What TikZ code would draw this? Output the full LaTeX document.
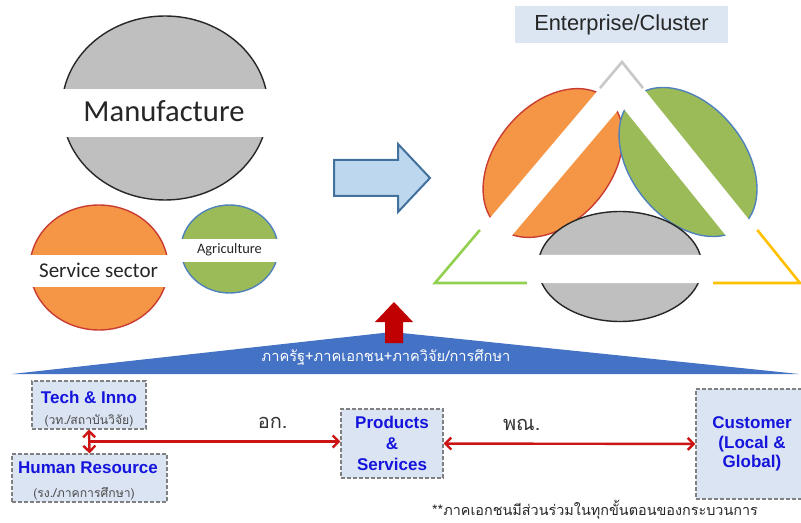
\documentclass[tikz,border=0pt]{standalone}
\usepackage{fontspec}
\setmainfont{Liberation Sans}
\newfontfamily\calibrifont{Carlito}
\newfontfamily\thaifont[Script=Thai]{Loma}
\usepackage{xcolor}
\usepackage{tikz}
\usetikzlibrary{positioning,arrows.meta,calc,shapes.geometric}
\definecolor{mfgray}{RGB}{191,191,191}
\definecolor{svorange}{RGB}{245,150,70}
\definecolor{svred}{RGB}{200,60,50}
\definecolor{aggreen}{RGB}{155,187,89}
\definecolor{agblue}{RGB}{79,129,189}
\definecolor{shiftfill}{RGB}{189,215,238}
\definecolor{shiftline}{RGB}{65,113,156}
\definecolor{clusterbg}{RGB}{220,230,242}
\definecolor{wedgeblue}{RGB}{68,114,196}
\definecolor{upred}{RGB}{192,0,0}
\definecolor{linkred}{RGB}{204,20,20}
\definecolor{unitfill}{RGB}{219,228,243}
\definecolor{unitline}{RGB}{128,128,128}
\definecolor{unittext}{RGB}{20,20,220}
\definecolor{triyellow}{RGB}{255,192,0}
\definecolor{trigreen}{RGB}{146,208,80}
\definecolor{trigray}{RGB}{200,200,200}
\tikzset{
  sector/.style={ellipse, inner sep=0pt, line width=0.7pt},
  band/.style={fill=white},
  slbl/.style={font=\calibrifont\fontsize{#1}{#1}\selectfont, text=black!85, inner sep=0pt},
  cluster/.style={fill=clusterbg, minimum width=106.5pt, minimum height=18.5pt,
                  font=\fontsize{10.9}{13}\selectfont, text=black!85},
  shiftarrow/.style={draw=shiftline, fill=shiftfill, line width=1pt, line join=miter},
  triedge/.style={line width=1.3pt, line join=miter},
  unit/.style={draw=unitline, dash pattern=on 2pt off 1pt, fill=unitfill, line width=0.6pt,
               align=center, font=\fontsize{8.5}{10.5}\selectfont\bfseries, text=unittext,
               inner sep=1pt},
  utitle/.style={font=\fontsize{8.5}{10.5}\selectfont\bfseries, text=unittext, inner sep=0pt},
  unote/.style={font=\thaifont\fontsize{6.1}{7}\selectfont, text=black!70, inner sep=0pt},
  link/.style={draw=linkred, line width=1.2pt},
  llbl/.style={font=\thaifont\fontsize{10}{12}\selectfont, text=black!80, inner sep=0pt}
}

\begin{document}
\begin{tikzpicture}[x=0.5pt,y=-0.5pt,
    >={Straight Barb[length=3pt,width=6pt]}]
    \useasboundingbox (0,0) rectangle (801,523);

    \node[sector, draw=black!85, fill=mfgray, minimum width=103pt, minimum height=92pt] (manufacture) at (165,108) {};
    \fill[band] ($(manufacture.center)+(-106,-19)$) rectangle ($(manufacture.center)+(106,29)$);
    \node[slbl=15.3] (manulbl) at (164,111) {Manufacture};

    \node[sector, draw=svred, fill=svorange, minimum width=69pt, minimum height=62.5pt] (service) at (99,267.5) {};
    \fill[band] ($(service.center)+(-71,-12.5)$) rectangle ($(service.center)+(71,19.5)$);
    \node[slbl=10.5] (servicelbl) at (98.5,270) {Service sector};

    \node[sector, draw=agblue, fill=aggreen, minimum width=48.5pt, minimum height=44pt] (agri) at (229.5,249) {};
    \fill[band] ($(agri.center)+(-50,-10)$) rectangle ($(agri.center)+(50,13)$);
    \node[slbl=7.2] (agrilbl) at (229.5,250) {Agriculture};

    \draw[shiftarrow] (334,160) -- (398,160) -- (398,144) -- (430,178) -- (398,212) -- (398,196) -- (334,196) -- cycle;

    \node[cluster] (cluster) at (621.5,24.5) {Enterprise/Cluster};

    \node[sector, draw=svred, fill=svorange, rotate=50, minimum width=84pt, minimum height=58pt] (tserv) at (553,163) {};
    \node[sector, draw=agblue, fill=aggreen, rotate=-51, minimum width=84pt, minimum height=57pt] (tagri) at (688,162) {};
    \node[sector, draw=black!85, fill=mfgray, minimum width=82pt, minimum height=55pt] (tmanu) at (620,266.5) {};

    \coordinate (apex) at (622,62);
    \coordinate (lcorner) at (435,283);
    \coordinate (rcorner) at (800,283);
    \coordinate (incenter) at (620.4,197);
    \coordinate (iapex) at ($(incenter)!0.674!(apex)$);
    \coordinate (ilcorner) at ($(incenter)!0.674!(lcorner)$);
    \coordinate (ircorner) at ($(incenter)!0.674!(rcorner)$);
    \fill[white, even odd rule] (apex) -- (lcorner) -- (rcorner) -- cycle
                                (iapex) -- (ilcorner) -- (ircorner) -- cycle;
    \draw[triedge, trigray] ($(apex)!0.118!(lcorner)$) -- (apex) -- ($(apex)!0.118!(rcorner)$);
    \draw[triedge, trigreen] ($(lcorner)!0.24!(apex)$) -- (lcorner) -- ($(lcorner)!0.252!(rcorner)$);
    \draw[triedge, triyellow] ($(rcorner)!0.24!(apex)$) -- (rcorner) -- ($(rcorner)!0.238!(lcorner)$);

    \fill[wedgeblue] (12,374) -- (392,332) -- (799,374) -- cycle;
    \fill[upred] (385,343) -- (385,322) -- (375,322) -- (394,302) -- (413,322) -- (403,322) -- (403,343) -- cycle;
    \node[font=\thaifont\fontsize{7.3}{9}\selectfont, text=white, inner sep=0pt] (partners) at (386,357) {ภาครัฐ+ภาคเอกชน+ภาควิจัย/การศึกษา};

    \node[unit, minimum width=57pt, minimum height=24pt] (tech) at (89,405) {};
    \node[utitle] (techtitle) at (89,397) {Tech \& Inno};
    \node[unote] (technote) at (89,421) {(วท./สถาบันวิจัย)};

    \node[unit, minimum width=77.5pt, minimum height=24pt] (human) at (89.5,478) {};
    \node[utitle] (humantitle) at (88,468) {Human Resource};
    \node[unote] (humannote) at (84,494) {(รง./ภาคการศึกษา)};

    \node[unit, minimum width=51pt, minimum height=34.5pt] (products) at (392,443.5) {Products\\\&\\Services};
    \node[unit, minimum width=56pt, minimum height=55pt, font=\fontsize{8.5}{9.8}\selectfont\bfseries] (customer) at (752,444) {Customer\\(Local \&\\Global)};

    \draw[link, <->] (tech.south) -- (human.north);
    \coordinate (hub) at ($(tech.south)!0.5!(human.north)$);
    \draw[link, ->] (hub) -- (hub -| products.west) node[llbl, pos=0.73, above=6pt] {อก.};
    \draw[link, <->] (products) -- (customer) node[llbl, pos=0.31, above=6pt] {พณ.};

    \node[font=\thaifont\fontsize{7.2}{9}\selectfont, text=black!85, inner sep=0pt] (footnote) at (595,510) {**ภาคเอกชนมีส่วนร่วมในทุกขั้นตอนของกระบวนการ};
\end{tikzpicture}
\end{document}
